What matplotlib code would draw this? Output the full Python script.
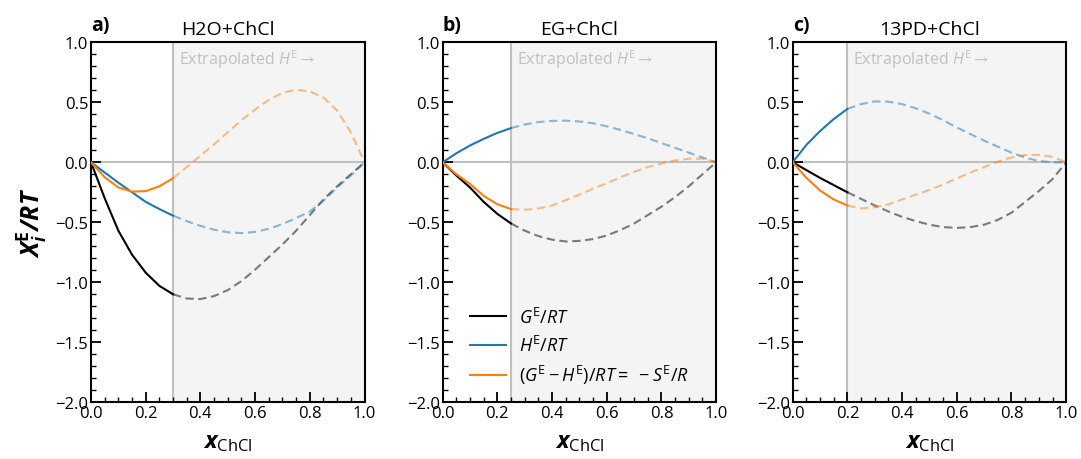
import matplotlib
matplotlib.use('Agg')
import matplotlib.pyplot as plt
from matplotlib.ticker import MultipleLocator
import numpy as np

plt.rcParams['font.family'] = ['Open Sans', 'DejaVu Sans']
plt.rcParams['mathtext.fontset'] = 'custom'
plt.rcParams['mathtext.rm'] = 'Open Sans'
plt.rcParams['mathtext.it'] = 'Open Sans:italic'
plt.rcParams['mathtext.bf'] = 'Open Sans:bold'
plt.rcParams['mathtext.bfit'] = 'Open Sans:italic:bold'
plt.rcParams['mathtext.fallback'] = 'stixsans'

# mole fraction of ChCl
x_chcl = [0.0, 0.05, 0.1, 0.15, 0.2, 0.25, 0.3, 0.35, 0.4, 0.45, 0.5,
          0.55, 0.6, 0.65, 0.7, 0.75, 0.8, 0.85, 0.9, 0.95, 1.0]

titles = ['H2O+ChCl', 'EG+ChCl', '13PD+ChCl']
panel_tags = ['a)', 'b)', 'c)']
x_limit = [0.3, 0.25, 0.2]  # end of measured H^E range

# G^E/RT
g_h2o = [0.0, -0.3, -0.57, -0.77, -0.92, -1.03, -1.1, -1.135, -1.14, -1.115, -1.065,
         -0.99, -0.895, -0.79, -0.685, -0.57, -0.44, -0.31, -0.2, -0.1, 0.0]
g_eg = [0.0, -0.11, -0.21, -0.33, -0.43, -0.51, -0.57, -0.615, -0.645, -0.66, -0.655,
        -0.64, -0.61, -0.565, -0.51, -0.44, -0.37, -0.29, -0.2, -0.1, 0.0]
g_13pd = [0.0, -0.065, -0.13, -0.19, -0.25, -0.305, -0.36, -0.41, -0.455, -0.49, -0.52,
          -0.54, -0.547, -0.54, -0.52, -0.48, -0.42, -0.33, -0.24, -0.14, 0.0]

# H^E/RT
h_h2o = [0.0, -0.085, -0.17, -0.25, -0.33, -0.39, -0.445, -0.49, -0.53, -0.562, -0.583,
         -0.59, -0.58, -0.555, -0.515, -0.465, -0.41, -0.32, -0.21, -0.11, 0.0]
h_eg = [0.0, 0.075, 0.14, 0.195, 0.245, 0.285, 0.315, 0.335, 0.345, 0.347, 0.34,
        0.325, 0.3, 0.27, 0.235, 0.2, 0.16, 0.12, 0.08, 0.04, 0.0]
h_13pd = [0.0, 0.145, 0.26, 0.36, 0.445, 0.485, 0.507, 0.505, 0.485, 0.45, 0.405,
          0.35, 0.29, 0.235, 0.18, 0.13, 0.08, 0.04, 0.01, 0.0, 0.0]

# (G^E - H^E)/RT = -S^E/R
s_h2o = [0.0, -0.125, -0.21, -0.245, -0.24, -0.2, -0.133, -0.04, 0.055, 0.15, 0.25,
         0.35, 0.44, 0.52, 0.58, 0.605, 0.59, 0.54, 0.43, 0.25, 0.0]
s_eg = [0.0, -0.1, -0.18, -0.28, -0.35, -0.39, -0.395, -0.385, -0.36, -0.315, -0.27,
        -0.22, -0.175, -0.125, -0.08, -0.04, -0.01, 0.015, 0.03, 0.03, 0.0]
s_13pd = [0.0, -0.13, -0.235, -0.31, -0.36, -0.385, -0.375, -0.35, -0.31, -0.27, -0.23,
          -0.185, -0.135, -0.085, -0.04, 0.005, 0.04, 0.06, 0.062, 0.045, 0.0]

G = [g_h2o, g_eg, g_13pd]
H = [h_h2o, h_eg, h_13pd]
S = [s_h2o, s_eg, s_13pd]

labels = [r'$G^\mathrm{E}/RT$', r'$H^\mathrm{E}/RT$',
          r'$(G^\mathrm{E}-H^\mathrm{E})/RT = \ -S^\mathrm{E}/R$']
colors = ['black', '#1f77b4', '#ff7f0e']

fig = plt.figure(figsize=(10.81, 4.6), dpi=100)
lefts = [0.0842, 0.4095, 0.7333]
x = np.array(x_chcl)

for k in range(3):
    ax = fig.add_axes([lefts[k], 0.1233, 0.253, 0.7826])
    x0 = x_limit[k]
    ax.axvspan(x0, 1.0, color='#f4f4f4', lw=0, zorder=0)
    ax.axvline(x0, color='#c0c0c0', lw=1.5, zorder=1)
    ax.axhline(0, color='#c0c0c0', lw=1.5, zorder=1)
    ax.text(x0 + 0.02, 0.86, r'Extrapolated $H^\mathrm{E}\rightarrow$',
            color='#c0c0c0', fontsize=11.5, va='center', ha='left')

    meas = x <= x0 + 1e-9
    extr = x >= x0 - 1e-9
    for series, c, lab in zip([G[k], H[k], S[k]], colors, labels):
        y = np.array(series)
        ax.plot(x[meas], y[meas], color=c, lw=1.5, label=lab, zorder=3)
        ax.plot(x[extr], y[extr], color=c, lw=1.5, ls='--', alpha=0.5,
                dashes=(4, 2.2), zorder=2)

    ax.set_xlim(0, 1)
    ax.set_ylim(-2, 1)
    ax.xaxis.set_major_locator(MultipleLocator(0.2))
    ax.xaxis.set_minor_locator(MultipleLocator(0.05))
    ax.yaxis.set_major_locator(MultipleLocator(0.5))
    ax.yaxis.set_minor_locator(MultipleLocator(0.1))
    ax.tick_params(which='both', direction='in', labelsize=12, pad=2)
    ax.tick_params(which='major', length=7, width=1.3)
    ax.tick_params(which='minor', length=3.5, width=1.0)
    for sp in ax.spines.values():
        sp.set_linewidth(1.5)

    ax.set_title(titles[k], fontsize=14, pad=6)
    ax.text(0.0, 1.02, panel_tags[k], transform=ax.transAxes, fontsize=14,
            fontweight='bold', ha='left', va='bottom')
    ax.set_xlabel(r'$\mathbfit{x}_\mathrm{ChCl}$', fontsize=17, labelpad=6)
    if k == 0:
        ax.set_ylabel(r'$\mathbfit{X}_\mathbfit{i}^\mathbf{E}\mathbfit{/RT}$',
                      fontsize=18, labelpad=4)
    if k == 1:
        ax.legend(loc='lower left', bbox_to_anchor=(0.1, 0.045), frameon=False,
                  fontsize=13, handlelength=2.0, handletextpad=0.7,
                  borderpad=0, borderaxespad=0, labelspacing=0.45)

fig.savefig('out.png', dpi=100)
